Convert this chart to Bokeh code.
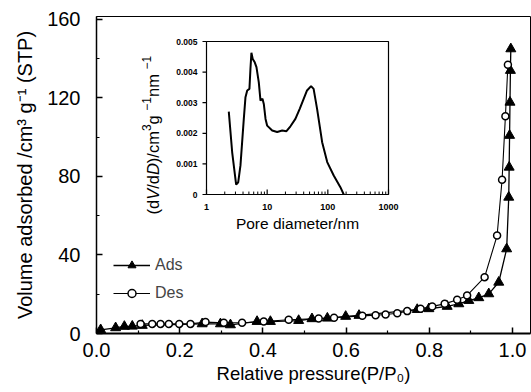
import math
from bokeh.plotting import figure
from bokeh.models import (Range1d, FixedTicker, PrintfTickFormatter, Label,
                          Legend, LegendItem, LogScale, LinearScale)
from bokeh.core.properties import value
from bokeh.embed import file_html
from bokeh.resources import INLINE

# ---------------- data ----------------
ads_p = [0.010, 0.046, 0.067, 0.086, 0.110, 0.254, 0.298, 0.322, 0.386, 0.418,
         0.486, 0.518, 0.555, 0.599, 0.631, 0.771, 0.799, 0.843, 0.871, 0.895,
         0.919, 0.943, 0.967, 0.986, 0.991, 0.992, 0.993, 0.994, 0.995, 0.996]
ads_v = [1.9, 2.9, 3.6, 3.7, 4.1, 4.9, 4.9, 4.4, 6.1, 6.1,
         6.6, 7.5, 7.8, 8.7, 9.2, 12.2, 12.6, 13.8, 15.1, 16.8,
         18.2, 20.2, 26.1, 43.1, 69.4, 84.7, 100.9, 117.8, 134.0, 145.0]

des_p = [0.106, 0.134, 0.154, 0.174, 0.199, 0.226, 0.262, 0.306, 0.350, 0.402,
         0.462, 0.534, 0.571, 0.639, 0.671, 0.695, 0.723, 0.747, 0.779, 0.807,
         0.837, 0.867, 0.891, 0.933, 0.963, 0.975, 0.983, 0.989]
des_v = [4.9, 4.9, 4.9, 4.9, 4.9, 4.9, 5.8, 5.5, 5.5, 6.1,
         7.0, 7.6, 8.0, 9.0, 9.3, 9.7, 10.3, 11.4, 12.6, 13.8,
         15.1, 17.2, 19.4, 28.7, 49.9, 78.3, 110.7, 136.9]

# pore size distribution (inset)
psd_d = [2.33, 2.65, 3.08, 3.33, 3.63, 4.12, 4.39, 4.69, 5.1, 5.3, 5.5, 5.78,
         6.24, 6.66, 7.27, 7.76, 8.37, 8.80, 9.4, 10.0, 12.1, 14.6, 17.7, 20.8,
         24.2, 29.2, 34.4, 45.4, 52.9, 58.3, 66.5, 80.6, 97.7, 125, 161, 183]
psd_v = [0.00271, 0.00138, 0.00032, 0.00040, 0.00095, 0.00247, 0.00318, 0.00340,
         0.00345, 0.00410, 0.00463, 0.00443, 0.00432, 0.00416, 0.00367, 0.00307,
         0.00313, 0.00296, 0.00247, 0.00225, 0.00209, 0.00204, 0.00209, 0.00207,
         0.00223, 0.00247, 0.00280, 0.00340, 0.00354, 0.00345, 0.00280, 0.00171,
         0.00106, 0.00062, 0.00024, 0.0]

x_ticks = [0.0, 0.2, 0.4, 0.6, 0.8, 1.0]
x_minor = [0.1, 0.3, 0.5, 0.7, 0.9]
y_ticks = [0, 40, 80, 120, 160]
y_minor = [20, 60, 100, 140]

inset_x_ticks = [1, 10, 100, 1000]
inset_x_labels = ["1", "10", "100", "1000"]
inset_x_minor = [m * 10 ** k for k in range(3) for m in range(2, 10)]
inset_y_ticks = [0, 0.001, 0.002, 0.003, 0.004, 0.005]
inset_y_labels = ["0", "0.001", "0.002", "0.003", "0.004", "0.005"]

# ---------------- layout constants ----------------
W, H = 531, 392
FL, FR, FT, FB = 96, 530, 16, 333
X0, X1 = 0.0, 1.0433
Y0, Y1 = 0.0, 161.5
FONT = "Liberation Sans"


def px2x(px):
    return X0 + (px - FL) / (FR - FL) * (X1 - X0)


def px2y(py):
    return Y0 + (FB - py) / (FB - FT) * (Y1 - Y0)


p = figure(width=W, height=H, output_backend="svg", toolbar_location=None,
           x_range=Range1d(X0, X1), y_range=Range1d(Y0, Y1),
           min_border_left=FL, min_border_right=W - FR,
           min_border_top=FT, min_border_bottom=H - FB)
p.xgrid.visible = False
p.ygrid.visible = False
p.outline_line_color = "black"
p.outline_line_width = 1
p.background_fill_color = "white"
p.border_fill_color = "white"

for ax in (p.xaxis[0], p.yaxis[0]):
    ax.major_tick_in = 6
    ax.major_tick_out = 0
    ax.minor_tick_in = 3
    ax.minor_tick_out = 0
    ax.major_tick_line_width = 1.5
    ax.minor_tick_line_width = 1.2
    ax.major_label_text_font = FONT
    ax.major_label_text_font_size = "20px"
    ax.major_label_text_color = "black"
    ax.axis_line_color = "black"
    ax.major_tick_line_color = "black"
    ax.minor_tick_line_color = "black"
    ax.axis_label_text_font = FONT
    ax.axis_label_text_font_style = "normal"
    ax.axis_label_text_color = "black"

p.xaxis.ticker = FixedTicker(ticks=x_ticks, minor_ticks=x_minor)
p.xaxis.formatter = PrintfTickFormatter(format="%.1f")
p.xaxis.axis_line_width = 2
p.xaxis.major_label_standoff = 9
p.xaxis.axis_label = "Relative pressure(P/P\u2080)"
p.xaxis.axis_label_text_font_size = "18.5px"
p.xaxis.axis_label_standoff = 3

p.yaxis.ticker = FixedTicker(ticks=y_ticks, minor_ticks=y_minor)
p.yaxis.axis_line_width = 1.5
p.yaxis.major_label_standoff = 16
p.yaxis.axis_label = "Volume adsorbed /cm\u00b3 g\u207b\u00b9 (STP)"
p.yaxis.axis_label_text_font_size = "20px"
p.yaxis.axis_label_standoff = 8

# ---------------- isotherm ----------------
ads_line = p.line(ads_p, ads_v, line_color="black", line_width=1.3)
ads_pts = p.scatter(ads_p, ads_v, marker="triangle", size=10,
                    fill_color="black", line_color="black")
des_line = p.line(des_p, des_v, line_color="black", line_width=1.1)
des_pts = p.scatter(des_p, des_v, marker="circle", size=7,
                    fill_color="white", line_color="black", line_width=1.5)
main_renderers = list(p.renderers)

legend = Legend(items=[LegendItem(label="Ads", renderers=[ads_line, ads_pts]),
                       LegendItem(label="Des", renderers=[des_line, des_pts])],
                location=(17, 30), padding=0, margin=0, spacing=8,
                glyph_width=37, glyph_height=20, label_height=20,
                label_standoff=5, border_line_color=None,
                background_fill_alpha=0, label_text_font=FONT,
                label_text_font_size="16px")
p.add_layout(legend)

# ---------------- inset ----------------
ix_src = Range1d(inset_x_ticks[0], inset_x_ticks[-1])
iy_src = Range1d(inset_y_ticks[0], inset_y_ticks[-1])
sub = p.subplot(x_source=ix_src, y_source=iy_src,
                x_target=Range1d(px2x(206), px2x(388)),
                y_target=Range1d(px2y(194), px2y(41)))

sub.quad(left=[ix_src.start], right=[ix_src.end], bottom=[iy_src.start],
         top=[iy_src.end], fill_color="white", line_color="black", line_width=1.2)
sub.line(psd_d, psd_v, line_color="black", line_width=2)

# inset ticks
tick_in = 0.00016
sub.segment(x0=inset_x_ticks, y0=[0] * len(inset_x_ticks),
            x1=inset_x_ticks, y1=[tick_in] * len(inset_x_ticks),
            line_color="black", line_width=1.2)
sub.segment(x0=inset_x_minor, y0=[0] * len(inset_x_minor),
            x1=inset_x_minor, y1=[tick_in * 0.6] * len(inset_x_minor),
            line_color="black", line_width=1)
out_x = 10 ** (-4 / 60.67)
sub.segment(x0=[1] * len(inset_y_ticks), y0=inset_y_ticks,
            x1=[out_x] * len(inset_y_ticks), y1=inset_y_ticks,
            line_color="black", line_width=1.2)

sub.text(x=[1] * len(inset_y_ticks), y=inset_y_ticks, text=inset_y_labels,
         x_offset=-9, text_align="right", text_baseline="middle",
         text_font=value(FONT), text_font_style="bold", text_font_size="8.5px",
         text_color="black")
sub.text(x=inset_x_ticks, y=[0] * len(inset_x_ticks), text=inset_x_labels,
         y_offset=9, text_align="center", text_baseline="top",
         text_font=value(FONT), text_font_style="bold", text_font_size="9px",
         text_color="black")
sub.text(x=[math.sqrt(ix_src.start * ix_src.end)], y=[0], text=["Pore diameter/nm"],
         y_offset=29, text_align="center", text_baseline="middle",
         text_font=value(FONT), text_font_size="15.5px", text_color="black")

# make the inset's horizontal axis logarithmic
for r in p.renderers:
    if r not in main_renderers and getattr(r, "coordinates", None) is not None:
        r.coordinates.x_scale = LogScale()
        r.coordinates.y_scale = LinearScale()

# ---------------- inset y label (italic / superscripts) ----------------
AW = {'(': .333, ')': .333, '/': .278, 'd': .556, 'V': .667, 'D': .722, 'c': .5,
      'm': .833, '3': .556, 'g': .556, 'n': .556, '1': .556, ' ': .278, '\u2212': .584}


def twidth(s, size):
    return sum(AW.get(c, .556) for c in s) * size


def vertical_run(pieces, start, center):
    pos = start
    for text, size, style, shift in pieces:
        lab = Label(x=px2x(center - shift), y=px2y(pos), text=text, angle=math.pi / 2,
                    text_align="left", text_baseline="middle")
        pos -= twidth(text, size)
        lab.text_font = FONT
        lab.text_font_size = f"{size}px"
        lab.text_font_style = style
        lab.text_color = "black"
        p.add_layout(lab)


vertical_run([("(d", 16.5, "normal", 0),
              ("V", 16.5, "italic", 0),
              ("/d", 16.5, "normal", 0),
              ("D", 16.5, "italic", 0),
              (")/cm", 16.5, "normal", 0),
              ("3", 12, "normal", 6),
              (" g", 16.5, "normal", 0),
              ("\u22121", 12, "normal", 6),
              (" nm", 16.5, "normal", 0),
              ("\u22121", 12, "normal", 6)], start=214, center=152)

open("out.html", "w").write(file_html(p, INLINE))
